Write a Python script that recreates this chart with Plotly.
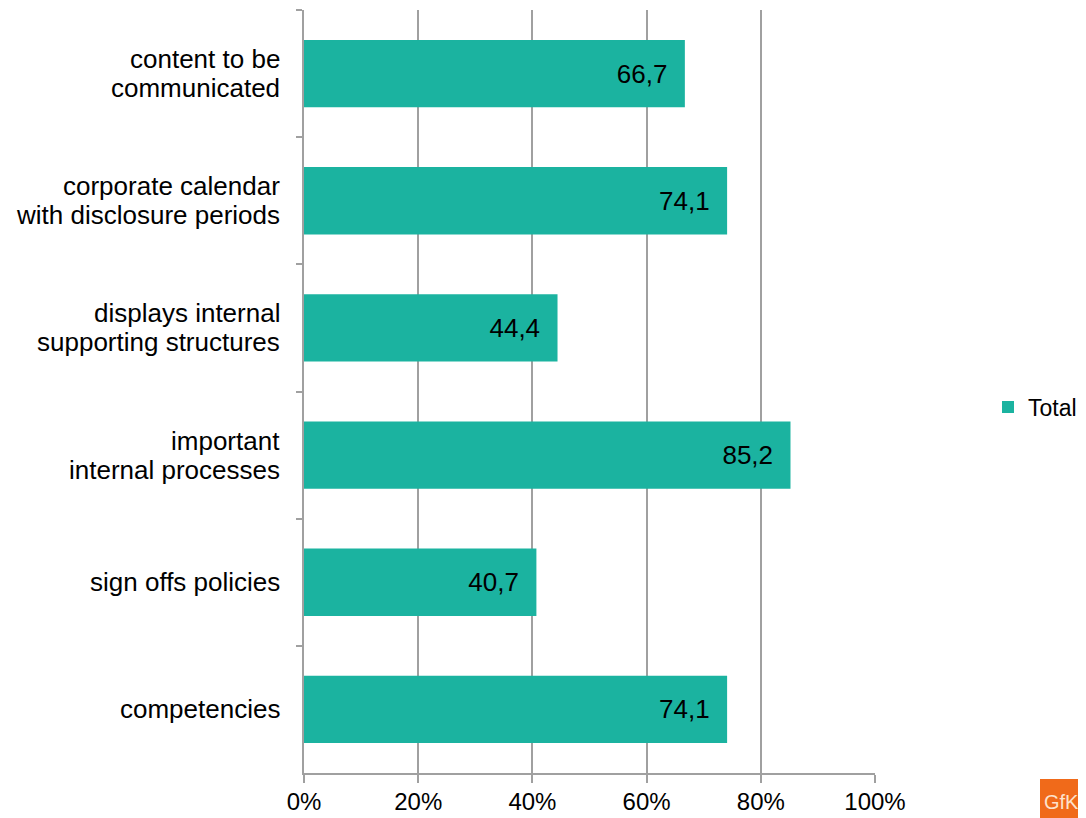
import plotly.graph_objects as go

categories = [
    "content to be <br>communicated",
    "corporate calendar<br>with disclosure periods",
    "displays internal<br>supporting structures",
    "important <br>internal processes",
    "sign offs policies",
    "competencies",
]
values = [66.7, 74.1, 44.4, 85.2, 40.7, 74.1]
x_ticks = [0, 20, 40, 60, 80, 100]
x_tick_labels = ["0%", "20%", "40%", "60%", "80%", "100%"]
series_name = "Total"

BAR = "#1bb3a0"
GRID = "#a0a0a0"
FONT = "Liberation Sans, Arial, sans-serif"
LINE_GAP = 29  # px between label lines

cat_ids = [f"c{i}" for i in range(len(categories))]

fig = go.Figure()
fig.add_trace(go.Bar(
    y=cat_ids,
    x=values,
    orientation="h",
    name=series_name,
    marker=dict(color=BAR, line=dict(width=0)),
    texttemplate="%{x:.1f}\u00a0\u00a0",
    textposition="inside",
    insidetextanchor="end",
    textfont=dict(family=FONT, size=26, color="black"),
    showlegend=True,
))

for cid, label in zip(cat_ids, categories):
    lines = label.split("<br>")
    n = len(lines)
    for k, line in enumerate(lines):
        fig.add_annotation(
            xref="paper", yref="y", x=0, y=cid, xshift=-22,
            yshift=((n - 1) / 2 - k) * LINE_GAP,
            xanchor="right", yanchor="middle", align="center",
            text=line.strip(), showarrow=False,
            font=dict(family=FONT, size=26, color="black"),
        )

# logo hint bottom-right
fig.add_shape(type="rect", xref="paper", yref="paper",
              x0=(1040 - 304) / 571, x1=(1100 - 304) / 571,
              y0=(773 - 830) / 763, y1=(773 - 779) / 763,
              fillcolor="#f06a1a", line=dict(width=0), layer="above")
fig.add_annotation(xref="paper", yref="paper", x=(1042 - 304) / 571, y=(773 - 802) / 763,
                   xanchor="left", yanchor="middle", text="GfK", showarrow=False,
                   font=dict(family=FONT, size=20, color="#fde2cc"))

fig.update_layout(
    width=1078, height=810,
    margin=dict(l=296, r=211, t=2, b=45, autoexpand=False),
    paper_bgcolor="white", plot_bgcolor="white",
    bargap=0.47,
    separators=",.",
    font=dict(family=FONT, size=26, color="black"),
    legend=dict(x=(988 - 304) / 571, y=(773 - 407) / 763, xanchor="left", yanchor="middle",
                font=dict(family=FONT, size=23, color="black"),
                itemwidth=30, bgcolor="rgba(0,0,0,0)"),
    xaxis=dict(
        range=[0, 100], tickmode="array", tickvals=x_ticks, ticktext=x_tick_labels,
        showgrid=True, gridcolor=GRID, gridwidth=2,
        showline=True, linecolor=GRID, linewidth=2,
        ticks="outside", ticklen=8, tickcolor=GRID, tickwidth=2,
        ticklabelstandoff=-2,
        tickfont=dict(family=FONT, size=24, color="black"),
        zeroline=False, fixedrange=True,
    ),
    yaxis=dict(
        autorange="reversed", type="category",
        showticklabels=False, showgrid=False,
        showline=True, linecolor=GRID, linewidth=2,
        ticks="outside", tickson="boundaries", ticklen=6, tickcolor=GRID, tickwidth=2,
        zeroline=False,
    ),
)

fig.write_html("out.html")
